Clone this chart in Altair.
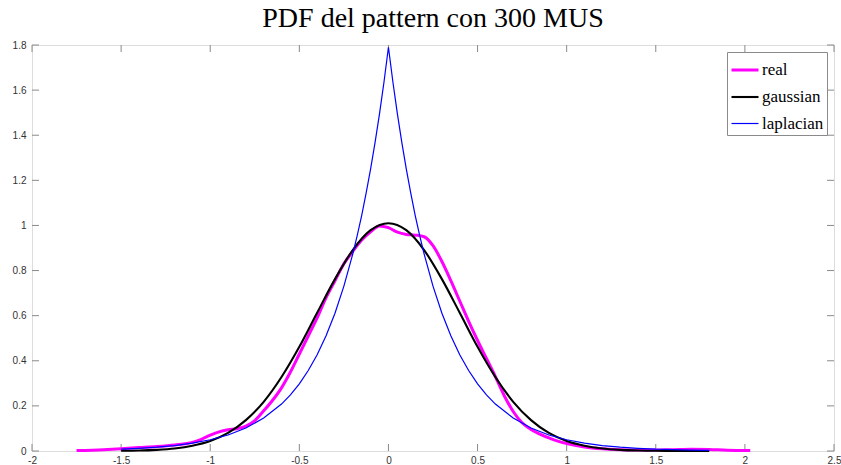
import altair as alt
import pandas as pd

# ---------------- data ----------------
x_real = [-1.75, -1.6, -1.5, -1.4, -1.3, -1.2, -1.1, -1.05, -1.0, -0.95, -0.9, -0.85,
          -0.8, -0.75, -0.7, -0.65, -0.6, -0.55, -0.5, -0.45, -0.4, -0.35, -0.3, -0.25,
          -0.2, -0.15, -0.1, -0.05, 0.0, 0.05, 0.1, 0.15, 0.2, 0.25, 0.3, 0.35, 0.4,
          0.45, 0.5, 0.55, 0.6, 0.65, 0.7, 0.75, 0.8, 0.85, 0.9, 0.95, 1.0, 1.1, 1.2,
          1.3, 1.4, 1.5, 1.6, 1.7, 1.8, 1.9, 2.03]
y_real = [0.002, 0.006, 0.010, 0.015, 0.020, 0.027, 0.038, 0.052, 0.070, 0.085, 0.094, 0.099,
          0.110, 0.135, 0.178, 0.225, 0.280, 0.350, 0.430, 0.510, 0.590, 0.680, 0.755, 0.830,
          0.885, 0.935, 0.972, 0.998, 0.990, 0.970, 0.960, 0.957, 0.950, 0.910, 0.840, 0.755, 0.665,
          0.575, 0.490, 0.410, 0.330, 0.245, 0.175, 0.125, 0.095, 0.075, 0.058, 0.044, 0.033, 0.018, 0.010,
          0.006, 0.004, 0.004, 0.006, 0.008, 0.007, 0.003, 0.002]

x_gauss = [-1.5, -1.4, -1.3, -1.2, -1.1, -1.0, -0.9, -0.8, -0.7, -0.6, -0.5, -0.4, -0.3,
           -0.2, -0.1, 0.0, 0.1, 0.2, 0.3, 0.4, 0.5, 0.6, 0.7, 0.8, 0.9, 1.0, 1.1, 1.2,
           1.3, 1.4, 1.5, 1.6, 1.7, 1.8]
y_gauss = [0.001, 0.002, 0.005, 0.011, 0.023, 0.044, 0.080, 0.137, 0.218, 0.328, 0.462, 0.613, 0.762,
           0.891, 0.979, 1.010, 0.979, 0.891, 0.762, 0.613, 0.462, 0.328, 0.218, 0.137, 0.080, 0.044, 0.023, 0.011,
           0.005, 0.002, 0.001, 0.0003, 0.0001, 0.0]

x_lap = [-1.5, -1.4, -1.3, -1.2, -1.1, -1.0, -0.9, -0.8, -0.7, -0.6, -0.55, -0.5, -0.45, -0.4,
         -0.35, -0.3, -0.25, -0.2, -0.175, -0.15, -0.125, -0.1, -0.075, -0.05, -0.025, 0.0,
         0.025, 0.05, 0.075, 0.1, 0.125, 0.15, 0.175, 0.2, 0.25, 0.3, 0.35, 0.4, 0.45, 0.5,
         0.55, 0.6, 0.7, 0.8, 0.9, 1.0, 1.1, 1.2, 1.3, 1.4, 1.5, 1.6, 1.7, 1.8]
y_lap = [0.008, 0.012, 0.017, 0.024, 0.035, 0.050, 0.071, 0.102, 0.146, 0.208, 0.249, 0.298, 0.357, 0.427,
         0.511, 0.611, 0.731, 0.874, 0.956, 1.045, 1.144, 1.251, 1.368, 1.496, 1.636, 1.790,
         1.636, 1.496, 1.368, 1.251, 1.144, 1.045, 0.956, 0.874, 0.731, 0.611, 0.511, 0.427, 0.357, 0.298,
         0.249, 0.208, 0.146, 0.102, 0.071, 0.050, 0.035, 0.024, 0.017, 0.012, 0.008, 0.006, 0.004, 0.003]

series_names = ["real", "gaussian", "laplacian"]
series_colors = ["#ff00ff", "#000000", "#0000ff"]
series_widths = [3.0, 1.2, 1.2]

x_ticks = [-2, -1.5, -1, -0.5, 0, 0.5, 1, 1.5, 2, 2.5]
y_ticks = [0, 0.2, 0.4, 0.6, 0.8, 1, 1.2, 1.4, 1.6, 1.8]

title_text = "PDF del pattern con 300 MUS"

# ---------------- tables ----------------
df = pd.concat([
    pd.DataFrame({"x": x_real, "y": y_real, "series": "real"}),
    pd.DataFrame({"x": x_gauss, "y": y_gauss, "series": "gaussian"}),
    pd.DataFrame({"x": x_lap, "y": y_lap, "series": "laplacian"}),
], ignore_index=True)
xt = pd.DataFrame({"t": x_ticks})
yt = pd.DataFrame({"t": y_ticks})

W, H = 802, 406
TICK = 7
FRAME = "#8a8a8a"
LABEL = "#333333"

xs = alt.Scale(domain=[-2, 2.5], nice=False, zero=False)
ys = alt.Scale(domain=[0, 1.8], nice=False, zero=False)

x_axis = alt.Axis(values=x_ticks, labelExpr="'' + datum.value", ticks=False, domain=False,
                  grid=False, title=None, labelFont="Liberation Sans", labelFontSize=10,
                  labelColor=LABEL, labelPadding=4, labelFlush=False)
y_axis = alt.Axis(values=y_ticks, labelExpr="'' + datum.value", ticks=False, domain=False,
                  grid=False, title=None, labelFont="Liberation Sans", labelFontSize=10,
                  labelColor=LABEL, labelPadding=6, labelFlush=False)

leg = alt.Legend(title=None, orient="top-right", offset=7, symbolType="stroke",
                 symbolSize=729, labelFont="Liberation Serif", labelFontSize=17,
                 labelColor="black", strokeColor=FRAME, fillColor="white",
                 padding=3, rowPadding=4, labelOffset=2, cornerRadius=0)

color = alt.Color("series:N", sort=series_names,
                  scale=alt.Scale(domain=series_names, range=series_colors), legend=leg)
width_enc = alt.StrokeWidth("series:N", sort=series_names,
                            scale=alt.Scale(domain=series_names, range=series_widths), legend=leg)

def line_layer(name, interp):
    return alt.Chart(df).transform_filter(alt.datum.series == name).mark_line(
        interpolate=interp).encode(
        x=alt.X("x:Q", scale=xs, axis=x_axis),
        y=alt.Y("y:Q", scale=ys, axis=y_axis),
        color=color, strokeWidth=width_enc, order="x:Q")

tick_bottom = alt.Chart(xt).mark_rule(color=FRAME, strokeWidth=1).encode(
    x=alt.X("t:Q", scale=xs, axis=x_axis), y=alt.value(H), y2=alt.value(H - TICK))
tick_top = alt.Chart(xt).mark_rule(color=FRAME, strokeWidth=1).encode(
    x=alt.X("t:Q", scale=xs, axis=x_axis), y=alt.value(0), y2=alt.value(TICK))
tick_left = alt.Chart(yt).mark_rule(color=FRAME, strokeWidth=1).encode(
    y=alt.Y("t:Q", scale=ys, axis=y_axis), x=alt.value(0), x2=alt.value(TICK))
tick_right = alt.Chart(yt).mark_rule(color=FRAME, strokeWidth=1).encode(
    y=alt.Y("t:Q", scale=ys, axis=y_axis), x=alt.value(W), x2=alt.value(W - TICK))

chart = alt.layer(
    tick_bottom, tick_top, tick_left, tick_right,
    line_layer("real", "monotone"),
    line_layer("gaussian", "monotone"),
    line_layer("laplacian", "linear"),
).properties(
    width=W, height=H,
    title=alt.TitleParams(title_text, font="Liberation Serif", fontSize=28,
                          fontWeight="normal", color="black", anchor="middle", offset=7),
    autosize=alt.AutoSizeParams(type="none"),
    padding={"left": 32, "top": 45, "right": 7, "bottom": 14},
).configure_view(stroke=FRAME, strokeWidth=1).configure(background="white")

chart.save("out.html", embed_options={"renderer": "svg", "actions": False})
